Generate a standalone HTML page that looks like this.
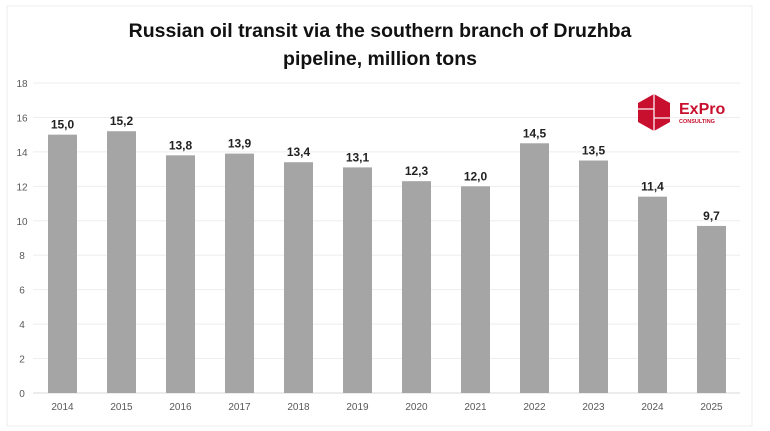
<!DOCTYPE html>
<html><head><meta charset="utf-8"><style>
body{margin:0;background:#fff;font-family:"Liberation Sans",sans-serif;}
svg{display:block}
</style></head><body>
<svg id="c" width="770" height="431">
<rect x="7" y="6" width="745" height="420" fill="#fff" stroke="#ececec"/>
<text x="380" y="37" text-anchor="middle" font-size="19.5" font-weight="bold" fill="#111">Russian oil transit via the southern branch of Druzhba</text>
<text x="380" y="65" text-anchor="middle" font-size="19.5" font-weight="bold" fill="#111">pipeline, million tons</text>
<g id="grid"></g><g id="bars"></g>
<g>
<polygon points="654,94 670,103 670,122 654,131 638,122 638,103" fill="#c8102e"/>
<line x1="654" y1="94" x2="654" y2="131" stroke="#fff" stroke-width="1.2"/>
<line x1="638" y1="109" x2="654" y2="109" stroke="#fff" stroke-width="1.2"/>
<line x1="654" y1="118" x2="670" y2="118" stroke="#fff" stroke-width="1.2"/>
<text x="679" y="114" font-size="16" font-weight="bold" fill="#c8102e">ExPro</text>
<text x="679" y="123" font-size="5.5" font-weight="bold" fill="#c8102e">CONSULTING</text>
</g>
</svg>
<script>
const categories=["2014","2015","2016","2017","2018","2019","2020","2021","2022","2023","2024","2025"];
const values=[15.0,15.2,13.8,13.9,13.4,13.1,12.3,12.0,14.5,13.5,11.4,9.7];
const valueLabels=["15,0","15,2","13,8","13,9","13,4","13,1","12,3","12,0","14,5","13,5","11,4","9,7"];
const yTicks=[0,2,4,6,8,10,12,14,16,18];
const NS="http://www.w3.org/2000/svg";
const y0=393,y18=83,xL=33,xR=740;
const y=v=>y0-(y0-y18)*v/18;
const x=i=>62.5+i*59;
const bw=29;
const grid=document.getElementById('grid'),bars=document.getElementById('bars');
function mk(tag,attrs,parent,txt){const e=document.createElementNS(NS,tag);for(const k in attrs)e.setAttribute(k,attrs[k]);if(txt!=null)e.textContent=txt;parent.appendChild(e);return e;}
yTicks.forEach(t=>{
 const l=mk('line',{x1:xL,x2:xR,y1:y(t),y2:y(t),stroke:t===0?'#d9d9d9':'#eeeeee'},grid);
 
 
 const tx=mk('text',{x:22,y:y(t)+4,'text-anchor':'middle','font-size':10,fill:'#595959'},grid,String(t));
 
 
});
categories.forEach((c,i)=>{
 const r=mk('rect',{x:x(i)-bw/2,y:y(values[i]),width:bw,height:y0-y(values[i]),fill:'#a5a5a5'},bars);
 
 
 const lb=mk('text',{x:x(i),y:y(values[i])-6,'text-anchor':'middle','font-size':12,'font-weight':'bold',fill:'#222'},bars,valueLabels[i]);
 
 
 const xl=mk('text',{x:x(i),y:410,'text-anchor':'middle','font-size':10,fill:'#595959'},bars,c);
 
 
});
</script>
</body></html>
